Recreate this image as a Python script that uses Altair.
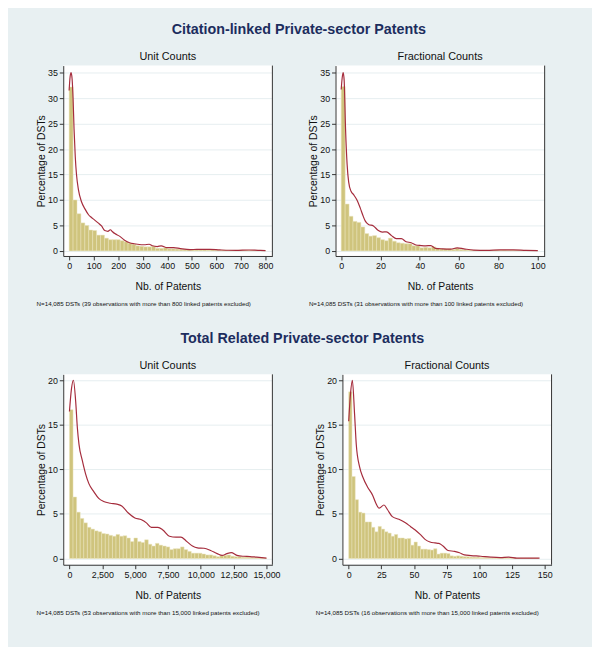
import altair as alt
import pandas as pd

# ---------------- data ----------------
# Panel A: Citation-linked, Unit Counts (bin width 16)
a_bin = 16
a_pct = [32.2, 10.0, 7.3, 5.5, 5.0, 4.1, 4.0, 3.1, 3.1, 2.5,
         2.2, 2.2, 2.2, 2.0, 1.8, 1.5, 1.3, 1.0, 0.9, 0.8,
         0.8, 0.9, 0.5, 0.5, 0.6, 0.4, 0.4, 0.35, 0.3, 0.3,
         0.25, 0.25, 0.2, 0.2, 0.25, 0.15, 0.2, 0.15, 0.1, 0.15,
         0.1, 0.1, 0.1, 0.15, 0.1, 0.1, 0.1, 0.08, 0.1, 0.08]
a_kx = [0, 4, 8, 12, 16, 20, 25, 30, 38, 50, 65, 79, 90, 103, 118, 132, 145,
        158, 168, 176, 186, 205, 226, 246, 265, 279, 306, 326, 339, 359, 375,
        399, 426, 453, 493, 520, 573, 613, 650, 680, 733, 770, 800]
a_ky = [31.5, 34.2, 35, 33.8, 30, 24, 18.5, 15, 12, 9.7, 8.2, 7.1, 6.6, 6.1, 5.5,
        4.9, 4.0, 3.85, 4.15, 3.8, 3.4, 2.9, 2.1, 1.6, 1.4, 1.3, 1.2, 1.3, 1.0,
        0.85, 1.0, 0.65, 0.65, 0.45, 0.25, 0.3, 0.3, 0.2, 0.12, 0.1, 0.18, 0.1, 0.05]

# Panel B: Citation-linked, Fractional Counts (bin width 2)
b_bin = 2
b_pct = [32.3, 9.2, 6.8, 5.8, 5.6, 4.7, 3.4, 2.9, 3.0, 2.6,
         2.2, 2.0, 2.5, 1.9, 1.6, 1.5, 1.4, 1.4, 1.0, 1.0,
         0.6, 0.7, 0.6, 0.8, 0.5, 0.4, 0.4, 0.4, 0.3, 0.5,
         0.3, 0.2, 0.15, 0.1, 0.1, 0.1, 0.1, 0.1, 0.1, 0.15,
         0.1, 0.15, 0.1, 0.1, 0.1, 0.08, 0.1, 0.08, 0.08, 0.08]
b_kx = [0, 0.5, 1, 1.5, 2.2, 3, 3.8, 5, 6.4, 8, 9.7, 11, 12.2, 13.9, 16.4, 18.9,
        20.9, 23, 25.6, 28, 30.6, 33, 35.6, 38, 40.6, 43, 45.6, 48, 51.5, 55.7,
        59, 62.4, 67.4, 74, 80.8, 87.5, 94, 100]
b_ky = [31.7, 34, 35, 33.5, 24, 17, 13.5, 11.7, 11, 10, 8.4, 7, 5.9, 5.2, 4.9,
        4.0, 3.7, 3.75, 3.0, 2.4, 2.4, 1.8, 1.6, 1.15, 1.05, 1.0, 1.05, 0.5, 0.4,
        0.35, 0.6, 0.4, 0.15, 0.1, 0.2, 0.2, 0.1, 0.05]

# Panel C: Total related, Unit Counts (55 bins over 0-15,000)
c_bin = 15000 / 55
c_pct = [16.7, 6.9, 5.2, 4.5, 4.0, 3.5, 3.3, 3.1, 3.0, 2.8,
         2.75, 2.6, 2.5, 2.7, 2.5, 2.55, 2.3, 1.9, 2.3, 1.9,
         1.8, 2.1, 1.6, 1.4, 1.7, 1.5, 1.4, 1.3, 1.0, 1.1,
         1.1, 1.3, 1.0, 0.8, 0.6, 0.6, 0.6, 0.5, 0.4, 0.4,
         0.3, 0.2, 0.3, 0.35, 0.4, 0.25, 0.2, 0.2, 0.15, 0.15,
         0.1, 0.1, 0.1, 0.1, 0.05]
c_kx = [0, 150, 300, 475, 600, 726, 977, 1227, 1478, 1853, 2229, 2604, 3105,
        3606, 3982, 4482, 4983, 5484, 5860, 6236, 6737, 7112, 7613, 8114, 8490,
        8865, 9366, 9742, 10243, 10744, 11245, 11620, 11996, 12322, 12747,
        13248, 13749, 14249, 15000]
c_ky = [16.5, 19, 20, 17.6, 14.7, 12.8, 11.0, 9.5, 8.4, 7.5, 6.75, 6.4, 6.2,
        6.1, 5.9, 5.1, 4.55, 4.35, 4.0, 3.5, 3.5, 3.2, 2.5, 2.4, 2.4, 2.0, 1.4,
        1.2, 1.15, 0.9, 0.55, 0.35, 0.55, 0.65, 0.35, 0.25, 0.22, 0.15, 0.05]

# Panel D: Total related, Fractional Counts (bin width 2.5)
d_bin = 2.5
d_pct = [18.7, 9.2, 6.6, 5.2, 5.1, 4.1, 4.1, 3.5, 3.0, 3.6,
         3.3, 3.0, 2.85, 2.5, 2.7, 2.3, 2.3, 2.2, 2.25, 1.5,
         1.85, 1.4, 1.05, 1.05, 1.0, 0.95, 1.1, 0.5, 0.6, 0.6,
         0.55, 0.3, 0.25, 0.3, 0.25, 0.2, 0.2, 0.15, 0.15, 0.15,
         0.1, 0.1, 0.1, 0.05, 0.05, 0.05, 0.05, 0.15, 0.05, 0.05,
         0.04, 0.04, 0.04, 0.04, 0.04, 0.04, 0.04, 0.04]
d_kx = [0, 1.4, 2.8, 4.5, 5.8, 8.3, 10.8, 14.5, 18.3, 20.8, 23.3, 27, 29.6, 33.4,
        38.4, 43.4, 47.2, 50.9, 54.7, 58.4, 62.2, 66, 69, 72.2, 76, 81, 84.8,
        88.5, 93.5, 101, 108.6, 116, 122.4, 128.7, 146]
d_ky = [15.4, 18.5, 20, 16.2, 12.8, 10.3, 9.15, 8.0, 7.1, 6.2, 5.65, 6.0, 5.5,
        4.7, 4.4, 4.0, 3.6, 3.2, 2.7, 2.15, 1.85, 1.75, 1.7, 1.4, 0.9, 0.8, 0.65,
        0.4, 0.33, 0.25, 0.15, 0.1, 0.15, 0.04, 0.04]

titles = ["Citation-linked Private-sector Patents", "Total Related Private-sector Patents"]
subtitles = ["Unit Counts", "Fractional Counts"]
notes = [
    "N=14,085 DSTs (39 observations with more than 800 linked patents excluded)",
    "N=14,085 DSTs (31 observations with more than 100 linked patents excluded)",
    "N=14,085 DSTs (53 observations with more than 15,000 linked patents excluded)",
    "N=14,085 DSTs (16 observations with more than 15,000 linked patents excluded)",
]
a_xticks = [0, 100, 200, 300, 400, 500, 600, 700, 800]
b_xticks = [0, 20, 40, 60, 80, 100]
c_xticks = [0, 2500, 5000, 7500, 10000, 12500, 15000]
d_xticks = [0, 25, 50, 75, 100, 125, 150]
top_yticks = [0, 5, 10, 15, 20, 25, 30, 35]
bot_yticks = [0, 5, 10, 15, 20]

# ---------------- style ----------------
FONT = "Liberation Sans"
BG = "#e8f0f2"
BAR = "#cfc47d"
BAR_EDGE = "#ebe5bd"
LINE = "#a52c3c"
AX = "#333333"
GRID = "#e6eef0"
W, H = 212, 193


def panel(pct, binw, kx, ky, xdom, ydom, xticks, yticks, xfmt, sub, note):
    bars_df = pd.DataFrame({
        "x": [i * binw for i in range(len(pct))],
        "x2": [(i + 1) * binw for i in range(len(pct))],
        "pct": pct,
    })
    line_df = pd.DataFrame({"x": kx, "pct": ky})
    xenc = alt.X("x:Q", scale=alt.Scale(domain=xdom, nice=False, zero=False),
                 axis=alt.Axis(values=xticks, format=xfmt, title="Nb. of Patents",
                               grid=False, domainColor=AX, tickColor=AX, tickSize=4,
                               labelFontSize=9, labelColor="#111", labelFont=FONT,
                               titleFont=FONT, titleFontSize=10.5, titleFontWeight="normal",
                               titleColor="#111", titlePadding=11, labelPadding=2,
                               labelFlush=False))
    yenc = alt.Y("pct:Q", scale=alt.Scale(domain=ydom, nice=False, zero=False),
                 axis=alt.Axis(values=yticks, title="Percentage of DSTs", grid=True,
                               gridColor=GRID, gridWidth=1, domainColor=AX, tickColor=AX,
                               tickSize=4, labelFontSize=9, labelColor="#111",
                               labelFont=FONT, titleFont=FONT, titleFontSize=10.5,
                               titleFontWeight="normal", titleColor="#111",
                               titlePadding=1, labelPadding=2, labelFlush=False))
    bars = alt.Chart(bars_df).mark_rect(color=BAR, stroke=BAR_EDGE, strokeWidth=0.5).encode(
        x=xenc, x2="x2:Q", y=yenc, y2=alt.datum(0))
    line = alt.Chart(line_df).mark_line(color=LINE, strokeWidth=1.2, interpolate="monotone").encode(
        x=xenc, y=yenc)
    border = alt.Chart(pd.DataFrame({"k": [0]})).mark_rule(color=AX, strokeWidth=1).encode(
        x=alt.value(W), y=alt.value(0), y2=alt.value(H))
    txt = alt.Chart(pd.DataFrame({"t": [note]})).mark_text(
        align="left", baseline="middle", fontSize=6.3, font=FONT, color="#111").encode(
        x=alt.value(-27), y=alt.value(H + 49), text="t:N")
    return alt.layer(bars, line, border, txt).properties(
        width=W, height=H,
        title=alt.TitleParams(sub, fontSize=11, font=FONT, fontWeight="normal",
                              color="#111", offset=3, anchor="middle"))


pA = panel(a_pct, a_bin, a_kx, a_ky, [-24, 828], [-1, 36.4], a_xticks, top_yticks, "d", subtitles[0], notes[0])
pB = panel(b_pct, b_bin, b_kx, b_ky, [-2.9, 103.5], [-1, 36.4], b_xticks, top_yticks, "d", subtitles[1], notes[1])
pC = panel(c_pct, c_bin, c_kx, c_ky, [-473, 15450], [-0.7, 20.66], c_xticks, bot_yticks, ",d", subtitles[0], notes[2])
pD = panel(d_pct, d_bin, d_kx, d_ky, [-4.8, 155.2], [-0.7, 20.66], d_xticks, bot_yticks, "d", subtitles[1], notes[3])


def section(left, right, title):
    return alt.hconcat(left, right, spacing=35).properties(
        title=alt.TitleParams(title, fontSize=14.5, font=FONT, fontWeight="bold",
                              color="#1c2d5e", offset=14, anchor="middle", dx=8))


chart = alt.vconcat(section(pA, pB, titles[0]), section(pC, pD, titles[1]), spacing=23).configure(
    background=BG,
    padding={"left": 28, "top": 10, "right": 40, "bottom": 26},
    font=FONT,
).configure_view(stroke=None, fill="white")

chart.save("out.html", embed_options={"renderer": "svg", "actions": False})
